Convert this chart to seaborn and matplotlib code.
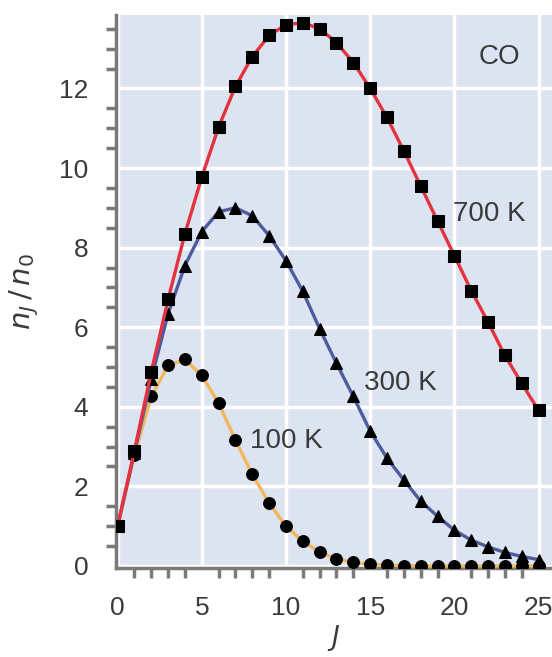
import matplotlib
matplotlib.use("Agg")
import matplotlib.pyplot as plt
import seaborn as sns
import pandas as pd
from matplotlib.ticker import MultipleLocator

# Rotational level populations of CO
J = list(range(26))
pop_700 = [1.0, 2.9, 4.88, 6.7, 8.35, 9.77, 11.03, 12.05, 12.8, 13.33, 13.6, 13.65,
           13.5, 13.15, 12.65, 12.0, 11.27, 10.43, 9.55, 8.67, 7.8, 6.92, 6.13,
           5.29, 4.59, 3.91]
pop_300 = [1.0, 2.85, 4.7, 6.34, 7.55, 8.4, 8.9, 9.0, 8.8, 8.3, 7.67, 6.9,
           5.96, 5.09, 4.26, 3.39, 2.71, 2.16, 1.63, 1.25, 0.9, 0.65, 0.48,
           0.34, 0.24, 0.16]
pop_100 = [1.0, 2.8, 4.26, 5.04, 5.19, 4.79, 4.09, 3.16, 2.3, 1.58, 1.0, 0.62,
           0.35, 0.18, 0.09, 0.04, 0.02, 0.01, 0.0, 0.0, 0.0, 0.0, 0.0,
           0.0, 0.0, 0.0]

df = pd.DataFrame({"J": J, "700 K": pop_700, "300 K": pop_300, "100 K": pop_100})

sns.set_theme(style="white")
plt.rcParams["font.family"] = ["Liberation Sans", "DejaVu Sans"]

fig = plt.figure(figsize=(5.52, 6.57), dpi=100)
ax = fig.add_axes([0.21, 0.1355, 0.79, 0.842])
ax.set_facecolor("#dce3f1")

# series: (column, line colour, marker, zorder)
series = [("100 K", "#f2b65c", "o", 3),
          ("300 K", "#4e5b9c", "^", 4),
          ("700 K", "#e5323e", "s", 5)]
for col, c, m, z in series:
    sns.lineplot(data=df, x="J", y=col, ax=ax, color=c, linewidth=2.4,
                 marker=m, markersize=8.5, markerfacecolor="black",
                 markeredgecolor="black", zorder=z)

ax.set_xlim(-0.1, 25.8)
ax.set_ylim(-0.05, 13.85)
ax.xaxis.set_major_locator(MultipleLocator(5))
ax.xaxis.set_minor_locator(MultipleLocator(1))
ax.yaxis.set_major_locator(MultipleLocator(2))
ax.yaxis.set_minor_locator(MultipleLocator(0.5))
ax.grid(True, which="major", color="white", linewidth=2.5)
ax.set_axisbelow(True)

for side in ["top", "right"]:
    ax.spines[side].set_visible(False)
for side in ["left", "bottom"]:
    ax.spines[side].set_color("#7a7a7a")
    ax.spines[side].set_linewidth(2.5)

ax.tick_params(axis="both", which="major", direction="out", color="#7a7a7a",
               width=2.5, labelsize=19, labelcolor="#3a3a3a")
ax.tick_params(axis="y", which="major", length=14, pad=6)
ax.tick_params(axis="y", which="minor", length=7, width=2.5, color="#7a7a7a", left=True)
ax.tick_params(axis="x", which="major", length=13, pad=7)
ax.tick_params(axis="x", which="minor", length=7, width=2.5, color="#7a7a7a", bottom=True)

ax.set_xlabel("$J$", fontsize=19, color="#3a3a3a", va="top")
ax.set_ylabel(r"$n_J\,/\,n_0$", fontsize=21, color="#3a3a3a")
ax.xaxis.set_label_coords(0.5, -0.1)
ax.yaxis.set_label_coords(-0.172, 0.5)

ax.text(22.7, 12.8, "CO", fontsize=20, color="#3a3a3a", ha="center", va="center")
ax.text(22.1, 8.85, "700 K", fontsize=20, color="#3a3a3a", ha="center", va="center")
ax.text(16.8, 4.6, "300 K", fontsize=20, color="#3a3a3a", ha="center", va="center")
ax.text(10.0, 3.13, "100 K", fontsize=20, color="#3a3a3a", ha="center", va="center")

fig.savefig("out.png", dpi=100)
